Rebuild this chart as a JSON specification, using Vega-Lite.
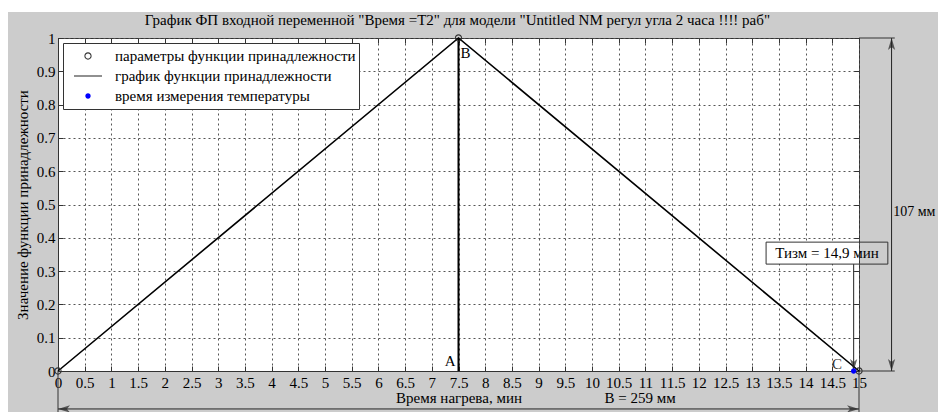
{
  "$schema": "https://vega.github.io/schema/vega-lite/v6.json",
  "width": 801,
  "height": 333,
  "autosize": "none",
  "padding": {"left": 58, "top": 38, "right": 79, "bottom": 41},
  "background": "#cccccc",
  "view": {"fill": "white", "stroke": "#333333", "strokeWidth": 1},
  "config": {
    "font": "Liberation Serif",
    "text": {"font": "Liberation Serif", "fontSize": 15, "color": "black"}
  },
  "data": {"values": [{}]},
  "datasets": {
    "fp": [
      {"t": 0, "mu": 0},
      {"t": 7.5, "mu": 1},
      {"t": 15, "mu": 0}
    ],
    "pts": [
      {"t": 0, "mu": 0, "series": "параметры функции принадлежности"},
      {"t": 7.5, "mu": 1, "series": "параметры функции принадлежности"},
      {"t": 15, "mu": 0, "series": "параметры функции принадлежности"},
      {"t": 14.9, "mu": 0, "series": "время измерения температуры"}
    ],
    "names": [
      {"t": 7.5, "mu": 0, "label": "A"},
      {"t": 7.5, "mu": 1, "label": "B"},
      {"t": 15, "mu": 0, "label": "C"}
    ]
  },
  "resolve": {"axis": {"x": "independent", "y": "independent"}},
  "layer": [
    {
      "mark": {"type": "rect", "fill": "white", "clip": false},
      "encoding": {
        "x": {"datum": -1.5, "type": "quantitative", "scale": {"domain": [0, 15], "nice": false}, "axis": null},
        "x2": {"datum": 17},
        "y": {"datum": 1.078, "type": "quantitative", "scale": {"domain": [0, 1], "nice": false}, "axis": null},
        "y2": {"datum": 1.12}
      }
    },
    {
      "mark": {"type": "rect", "fill": "white", "clip": false},
      "encoding": {
        "x": {"datum": -1.5, "type": "quantitative", "scale": {"domain": [0, 15], "nice": false}, "axis": null},
        "x2": {"datum": -0.936},
        "y": {"datum": -0.13, "type": "quantitative", "scale": {"domain": [0, 1], "nice": false}, "axis": null},
        "y2": {"datum": 1.12}
      }
    },
    {
      "mark": {"type": "text", "align": "center", "baseline": "middle", "clip": false},
      "encoding": {
        "x": {"datum": 7.48, "type": "quantitative", "scale": {"domain": [0, 15], "nice": false}, "axis": null},
        "y": {"datum": 1.054, "type": "quantitative", "scale": {"domain": [0, 1], "nice": false}, "axis": null},
        "text": {"value": "График ФП входной переменной \"Время =Т2\" для модели \"Untitled NM регул угла 2 часа !!!! раб\""}
      }
    },
    {
      "mark": {"type": "rect", "fill": "white", "clip": false},
      "encoding": {
        "x": {"datum": 13.26, "type": "quantitative", "scale": {"domain": [0, 15], "nice": false}, "axis": null},
        "x2": {"datum": 15},
        "y": {"datum": 0.321, "type": "quantitative", "scale": {"domain": [0, 1], "nice": false}, "axis": null},
        "y2": {"datum": 0.387}
      }
    },
    {
      "data": {"name": "fp"},
      "mark": {"type": "line", "color": "black", "strokeWidth": 1.6},
      "encoding": {
        "x": {
          "field": "t", "type": "quantitative",
          "scale": {"domain": [0, 15], "nice": false},
          "axis": {
            "orient": "bottom",
            "values": [0,0.5,1,1.5,2,2.5,3,3.5,4,4.5,5,5.5,6,6.5,7,7.5,8,8.5,9,9.5,10,10.5,11,11.5,12,12.5,13,13.5,14,14.5,15],
            "format": "~g",
            "grid": true, "gridDash": [2, 3], "gridColor": "#555555", "gridWidth": 1, "gridOpacity": 1,
            "domainColor": "#333333", "tickColor": "#333333", "tickSize": -5,
            "labelPadding": 9, "labelFont": "Liberation Serif", "labelFontSize": 15, "labelColor": "black",
            "labelFlush": false, "labelOverlap": false,
            "title": "Время нагрева, мин", "titleFont": "Liberation Serif", "titleFontSize": 15,
            "titleFontWeight": "normal", "titleColor": "black", "titlePadding": 0
          }
        },
        "y": {
          "field": "mu", "type": "quantitative",
          "scale": {"domain": [0, 1], "nice": false},
          "axis": {
            "orient": "left",
            "values": [0,0.1,0.2,0.3,0.4,0.5,0.6,0.7,0.8,0.9,1],
            "format": "~g",
            "grid": true, "gridDash": [2, 3], "gridColor": "#555555", "gridWidth": 1, "gridOpacity": 1,
            "domainColor": "#333333", "tickColor": "#333333", "tickSize": -5,
            "labelPadding": 8, "labelFont": "Liberation Serif", "labelFontSize": 15, "labelColor": "black",
            "labelFlush": false, "labelOverlap": false,
            "title": "Значение функции принадлежности", "titleFont": "Liberation Serif", "titleFontSize": 15,
            "titleFontWeight": "normal", "titleColor": "black", "titlePadding": 6
          }
        }
      }
    },
    {
      "data": {"name": "fp"},
      "transform": [{"filter": "datum.mu === 1"}],
      "mark": {"type": "rule", "color": "black", "strokeWidth": 2},
      "encoding": {
        "x": {"field": "t", "type": "quantitative", "scale": {"domain": [0, 15], "nice": false}, "axis": null},
        "y": {"field": "mu", "type": "quantitative", "scale": {"domain": [0, 1], "nice": false}, "axis": null},
        "y2": {"datum": 0}
      }
    },
    {
      "data": {"name": "pts"},
      "transform": [{"filter": "datum.series === 'время измерения температуры'"}],
      "mark": {"type": "rule", "color": "#222222", "strokeWidth": 1, "clip": false},
      "encoding": {
        "x": {"field": "t", "type": "quantitative", "scale": {"domain": [0, 15], "nice": false}, "axis": null},
        "y": {"field": "mu", "type": "quantitative", "scale": {"domain": [0, 1], "nice": false}, "axis": null},
        "y2": {"datum": 0.321}
      }
    },
    {
      "data": {"name": "pts"},
      "transform": [{"filter": "datum.series === 'время измерения температуры'"}],
      "mark": {"type": "point", "shape": "M0,0 L-0.6,-2 L0,-1.5 L0.6,-2 Z", "filled": true, "color": "#222222", "size": 144, "strokeWidth": 0, "clip": false},
      "encoding": {
        "x": {"field": "t", "type": "quantitative", "scale": {"domain": [0, 15], "nice": false}, "axis": null},
        "y": {"field": "mu", "type": "quantitative", "scale": {"domain": [0, 1], "nice": false}, "axis": null}
      }
    },
    {
      "data": {"name": "pts"},
      "transform": [{"filter": "datum.series === 'параметры функции принадлежности'"}],
      "mark": {"type": "point", "size": 784, "strokeWidth": 0, "opacity": 1, "filled": true, "clip": false},
      "encoding": {
        "x": {
          "field": "t", "type": "quantitative",
          "scale": {"domain": [0, 15], "nice": false},
          "axis": {
            "orient": "top",
            "values": [0,0.5,1,1.5,2,2.5,3,3.5,4,4.5,5,5.5,6,6.5,7,7.5,8,8.5,9,9.5,10,10.5,11,11.5,12,12.5,13,13.5,14,14.5,15],
            "labels": false, "grid": false, "domain": false,
            "tickColor": "#333333", "tickSize": -5, "title": null
          }
        },
        "y": {
          "field": "mu", "type": "quantitative",
          "scale": {"domain": [0, 1], "nice": false},
          "axis": {
            "orient": "right",
            "values": [0,0.1,0.2,0.3,0.4,0.5,0.6,0.7,0.8,0.9,1],
            "labels": false, "grid": false, "domain": false,
            "tickColor": "#333333", "tickSize": -5, "title": null
          }
        },
        "color": {
          "field": "series", "type": "nominal",
          "scale": {
            "domain": ["параметры функции принадлежности", "график функции принадлежности", "время измерения температуры"],
            "range": ["#333333", "#222222", "blue"]
          },
          "legend": {
            "title": null,
            "orient": "top-left",
            "offset": 5,
            "fillColor": "white",
            "strokeColor": "#333333",
            "padding": 3,
            "clipHeight": 20,
            "rowPadding": 0,
            "symbolSize": 784,
            "symbolOffset": 8,
            "symbolStrokeWidth": 0,
            "labelOffset": 13,
            "labelFont": "Liberation Serif",
            "labelFontSize": 15,
            "labelColor": "black",
            "labelLimit": 400
          }
        },
        "shape": {
          "field": "series", "type": "nominal",
          "scale": {
            "domain": ["параметры функции принадлежности", "график функции принадлежности", "время измерения температуры"],
            "range": [
              "M-0.26,0A0.26,0.26 0 1,1 0.26,0A0.26,0.26 0 1,1 -0.26,0ZM-0.185,0A0.185,0.185 0 1,0 0.185,0A0.185,0.185 0 1,0 -0.185,0Z",
              "M-1,-0.04L1,-0.04L1,0.04L-1,0.04Z",
              "M-0.19,0A0.19,0.19 0 1,1 0.19,0A0.19,0.19 0 1,1 -0.19,0Z"
            ]
          }
        }
      }
    },
    {
      "data": {"name": "pts"},
      "transform": [{"filter": "datum.series === 'время измерения температуры'"}],
      "mark": {"type": "point", "size": 784, "filled": true, "strokeWidth": 0, "opacity": 1, "clip": false},
      "encoding": {
        "x": {"field": "t", "type": "quantitative", "scale": {"domain": [0, 15], "nice": false}, "axis": null},
        "y": {"field": "mu", "type": "quantitative", "scale": {"domain": [0, 1], "nice": false}, "axis": null},
        "color": {"field": "series", "type": "nominal"},
        "shape": {"field": "series", "type": "nominal"}
      }
    },
    {
      "data": {"name": "names"},
      "transform": [{"filter": "datum.label === 'A'"}],
      "mark": {"type": "text", "align": "right", "baseline": "alphabetic", "dx": -3, "dy": -5},
      "encoding": {
        "x": {"field": "t", "type": "quantitative", "scale": {"domain": [0, 15], "nice": false}, "axis": null},
        "y": {"field": "mu", "type": "quantitative", "scale": {"domain": [0, 1], "nice": false}, "axis": null},
        "text": {"field": "label"}
      }
    },
    {
      "data": {"name": "names"},
      "transform": [{"filter": "datum.label === 'B'"}],
      "mark": {"type": "text", "align": "left", "baseline": "alphabetic", "dx": 2, "dy": 20},
      "encoding": {
        "x": {"field": "t", "type": "quantitative", "scale": {"domain": [0, 15], "nice": false}, "axis": null},
        "y": {"field": "mu", "type": "quantitative", "scale": {"domain": [0, 1], "nice": false}, "axis": null},
        "text": {"field": "label"}
      }
    },
    {
      "data": {"name": "names"},
      "transform": [{"filter": "datum.label === 'C'"}],
      "mark": {"type": "text", "align": "right", "baseline": "alphabetic", "dx": -17, "dy": -2, "color": "#333333"},
      "encoding": {
        "x": {"field": "t", "type": "quantitative", "scale": {"domain": [0, 15], "nice": false}, "axis": null},
        "y": {"field": "mu", "type": "quantitative", "scale": {"domain": [0, 1], "nice": false}, "axis": null},
        "text": {"field": "label"}
      }
    },
    {
      "mark": {"type": "rect", "fill": "transparent", "stroke": "#333333", "strokeWidth": 1, "clip": false},
      "encoding": {
        "x": {"datum": 13.26, "type": "quantitative", "scale": {"domain": [0, 15], "nice": false}, "axis": null},
        "x2": {"datum": 15.54},
        "y": {"datum": 0.321, "type": "quantitative", "scale": {"domain": [0, 1], "nice": false}, "axis": null},
        "y2": {"datum": 0.387}
      }
    },
    {
      "mark": {"type": "text", "align": "center", "baseline": "middle", "clip": false},
      "encoding": {
        "x": {"datum": 14.4, "type": "quantitative", "scale": {"domain": [0, 15], "nice": false}, "axis": null},
        "y": {"datum": 0.354, "type": "quantitative", "scale": {"domain": [0, 1], "nice": false}, "axis": null},
        "text": {"value": "Тизм = 14,9 мин"}
      }
    },
    {
      "mark": {"type": "rule", "color": "#222222", "strokeWidth": 1, "clip": false},
      "encoding": {
        "x": {"datum": 15.61, "type": "quantitative", "scale": {"domain": [0, 15], "nice": false}, "axis": null},
        "y": {"datum": 0, "type": "quantitative", "scale": {"domain": [0, 1], "nice": false}, "axis": null},
        "y2": {"datum": 1}
      }
    },
    {
      "mark": {"type": "rule", "color": "#333333", "strokeWidth": 1, "clip": false},
      "encoding": {
        "x": {"datum": 15, "type": "quantitative", "scale": {"domain": [0, 15], "nice": false}, "axis": null},
        "x2": {"datum": 15.67},
        "y": {"datum": 1, "type": "quantitative", "scale": {"domain": [0, 1], "nice": false}, "axis": null}
      }
    },
    {
      "mark": {"type": "rule", "color": "#333333", "strokeWidth": 1, "clip": false},
      "encoding": {
        "x": {"datum": 15, "type": "quantitative", "scale": {"domain": [0, 15], "nice": false}, "axis": null},
        "x2": {"datum": 15.67},
        "y": {"datum": 0, "type": "quantitative", "scale": {"domain": [0, 1], "nice": false}, "axis": null}
      }
    },
    {
      "mark": {"type": "rule", "color": "#222222", "strokeWidth": 1, "clip": false},
      "encoding": {
        "x": {"datum": 0, "type": "quantitative", "scale": {"domain": [0, 15], "nice": false}, "axis": null},
        "x2": {"datum": 15},
        "y": {"datum": -0.114, "type": "quantitative", "scale": {"domain": [0, 1], "nice": false}, "axis": null}
      }
    },
    {
      "mark": {"type": "rule", "color": "#333333", "strokeWidth": 1, "clip": false},
      "encoding": {
        "x": {"datum": 0, "type": "quantitative", "scale": {"domain": [0, 15], "nice": false}, "axis": null},
        "y": {"datum": 0, "type": "quantitative", "scale": {"domain": [0, 1], "nice": false}, "axis": null},
        "y2": {"datum": -0.13}
      }
    },
    {
      "mark": {"type": "rule", "color": "#333333", "strokeWidth": 1, "clip": false},
      "encoding": {
        "x": {"datum": 15, "type": "quantitative", "scale": {"domain": [0, 15], "nice": false}, "axis": null},
        "y": {"datum": 0, "type": "quantitative", "scale": {"domain": [0, 1], "nice": false}, "axis": null},
        "y2": {"datum": -0.13}
      }
    },
    {
      "mark": {"type": "point", "shape": "M0,0 L-0.6,-2 L0,-1.5 L0.6,-2 Z", "filled": true, "color": "#222222", "size": 144, "strokeWidth": 0, "angle": 180, "clip": false},
      "encoding": {
        "x": {"datum": 15.61, "type": "quantitative", "scale": {"domain": [0, 15], "nice": false}, "axis": null},
        "y": {"datum": 1, "type": "quantitative", "scale": {"domain": [0, 1], "nice": false}, "axis": null}
      }
    },
    {
      "mark": {"type": "point", "shape": "M0,0 L-0.6,-2 L0,-1.5 L0.6,-2 Z", "filled": true, "color": "#222222", "size": 144, "strokeWidth": 0, "angle": 0, "clip": false},
      "encoding": {
        "x": {"datum": 15.61, "type": "quantitative", "scale": {"domain": [0, 15], "nice": false}, "axis": null},
        "y": {"datum": 0, "type": "quantitative", "scale": {"domain": [0, 1], "nice": false}, "axis": null}
      }
    },
    {
      "mark": {"type": "point", "shape": "M0,0 L-0.6,-2 L0,-1.5 L0.6,-2 Z", "filled": true, "color": "#222222", "size": 144, "strokeWidth": 0, "angle": 90, "clip": false},
      "encoding": {
        "x": {"datum": 0, "type": "quantitative", "scale": {"domain": [0, 15], "nice": false}, "axis": null},
        "y": {"datum": -0.114, "type": "quantitative", "scale": {"domain": [0, 1], "nice": false}, "axis": null}
      }
    },
    {
      "mark": {"type": "point", "shape": "M0,0 L-0.6,-2 L0,-1.5 L0.6,-2 Z", "filled": true, "color": "#222222", "size": 144, "strokeWidth": 0, "angle": 270, "clip": false},
      "encoding": {
        "x": {"datum": 15, "type": "quantitative", "scale": {"domain": [0, 15], "nice": false}, "axis": null},
        "y": {"datum": -0.114, "type": "quantitative", "scale": {"domain": [0, 1], "nice": false}, "axis": null}
      }
    },
    {
      "mark": {"type": "text", "align": "left", "baseline": "middle", "dx": 0, "fontSize": 14, "clip": false},
      "encoding": {
        "x": {"datum": 15.64, "type": "quantitative", "scale": {"domain": [0, 15], "nice": false}, "axis": null},
        "y": {"datum": 0.477, "type": "quantitative", "scale": {"domain": [0, 1], "nice": false}, "axis": null},
        "text": {"value": "107 мм"}
      }
    },
    {
      "mark": {"type": "text", "align": "center", "baseline": "middle", "clip": false},
      "encoding": {
        "x": {"datum": 10.9, "type": "quantitative", "scale": {"domain": [0, 15], "nice": false}, "axis": null},
        "y": {"datum": -0.08, "type": "quantitative", "scale": {"domain": [0, 1], "nice": false}, "axis": null},
        "text": {"value": "B = 259 мм"}
      }
    }
  ]
}
